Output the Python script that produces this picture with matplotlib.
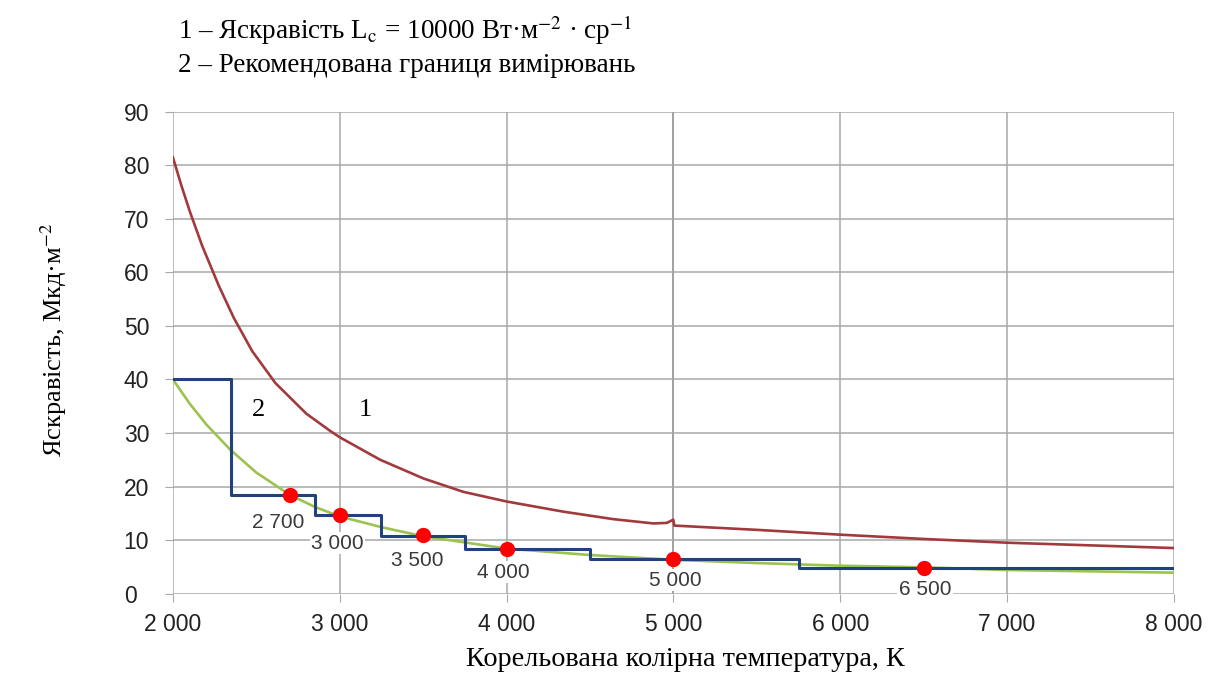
import numpy as np
import matplotlib.pyplot as plt

plt.rcParams['mathtext.fontset'] = 'stix'

# крива 1 - яскравість Lc = 10000
red_x = [2000, 2050, 2100, 2175, 2275, 2365, 2475, 2615, 2800, 2942, 3000, 3242,
         3502, 3741, 4000, 4340, 4640, 4880, 4960, 4999, 5005, 5500, 6000,
         6500, 7000, 7500, 8000]
red_y = [81.5, 76.3, 71.5, 65.0, 57.5, 51.5, 45.3, 39.3, 33.6, 30.4, 29.2, 25.0,
         21.5, 19.0, 17.2, 15.3, 13.9, 13.1, 13.2, 13.8, 12.7, 11.9, 11.0,
         10.2, 9.5, 9.0, 8.5]

# зелена крива
green_x = [2000, 2100, 2200, 2343, 2500, 2703, 2850, 3000, 3250, 3500, 4000, 4500,
           5000, 5500, 6000, 6500, 7000, 7500, 8000]
green_y = [40.0, 35.5, 31.6, 26.9, 22.6, 18.4, 16.2, 14.4, 12.4, 10.7, 8.4, 7.2,
           6.3, 5.7, 5.2, 4.9, 4.4, 4.15, 3.9]

# крива 2 - рекомендована границя (сходинки)
step_x = [2000, 2350, 2850, 3250, 3750, 4500, 5750, 8000]
step_y = [40.0, 18.4, 14.6, 10.7, 8.4, 6.5, 4.8, 4.8]

# точки
dot_x = [2700, 3000, 3500, 4000, 5000, 6500]
dot_y = [18.4, 14.6, 10.9, 8.4, 6.4, 4.8]
dot_labels = ['2 700', '3 000', '3 500', '4 000', '5 000', '6 500']
lab_x = [2630, 2985, 3465, 3980, 5010, 6507]
lab_y = [13.2, 9.4, 6.1, 4.0, 2.5, 0.7]

x_ticks = [2000, 3000, 4000, 5000, 6000, 7000, 8000]
x_ticklabels = ['2 000', '3 000', '4 000', '5 000', '6 000', '7 000', '8 000']
y_ticks = list(range(0, 100, 10))

fig = plt.figure(figsize=(12.12, 6.88), dpi=100)
ax = fig.add_axes([0.1427, 0.1373, 0.8259, 0.7])

ax.plot(red_x, red_y, color='#a03a3d', lw=1.9, zorder=3, solid_joinstyle='round')
ax.plot(green_x, green_y, color='#9cc24f', lw=1.9, zorder=3, solid_joinstyle='round')
ax.step(step_x, step_y, where='post', color='#21427c', lw=2.2, zorder=4)
ax.plot(dot_x, dot_y, 'o', color='#ff0000', markersize=10, zorder=5)

for lx, ly, t in zip(lab_x, lab_y, dot_labels):
    ax.text(lx, ly, t, ha='center', va='center', fontsize=15, color='#3a3a3a',
            family='Liberation Sans', zorder=6,
            bbox=dict(facecolor='white', edgecolor='none', pad=1.0))

ax.text(2512, 34.3, '2', fontsize=19, family='Liberation Serif', ha='center', va='center')
ax.text(3153, 34.3, '1', fontsize=19, family='Liberation Serif', ha='center', va='center')

ax.set_xlim(2000, 8000)
ax.set_ylim(0, 90)
ax.set_xticks(x_ticks)
ax.set_xticklabels(x_ticklabels)
ax.set_yticks(y_ticks)
for s in ax.spines.values():
    s.set_visible(False)
ax.grid(True, color='#a8a8a8', lw=1.1, zorder=1)
ax.tick_params(axis='both', length=6, color='#a8a8a8', labelsize=16.5, labelcolor='#222222')
ax.tick_params(axis='x', pad=8)
ax.tick_params(axis='y', pad=29.5)
for lab in ax.get_yticklabels():
    lab.set_horizontalalignment('left')
for lab in ax.get_xticklabels() + ax.get_yticklabels():
    lab.set_family('Liberation Sans')
# темніша лінія 5000
ax.axvline(5000, color='#707070', lw=1.1, zorder=1.5)

fig.text(178 / 1212, 1 - 30 / 688,
         '1 – Яскравість L$_\\mathrm{c}$ = 10000 Вт·м$^{-2}$ · ср$^{-1}$',
         fontsize=19.5, family='Liberation Serif', va='center')
fig.text(178 / 1212, 1 - 66 / 688, '2 – Рекомендована границя вимірювань',
         fontsize=19.5, family='Liberation Serif', va='center')
fig.text(685 / 1212, 1 - 660 / 688, 'Корельована колірна температура, К',
         fontsize=20.3, family='Liberation Serif', ha='center', va='center')
fig.text(54 / 1212, 1 - 340 / 688, 'Яскравість, Мкд·м$^{-2}$',
         fontsize=19, family='Liberation Serif', ha='center', va='center', rotation=90)

fig.savefig('out.png', dpi=100)
